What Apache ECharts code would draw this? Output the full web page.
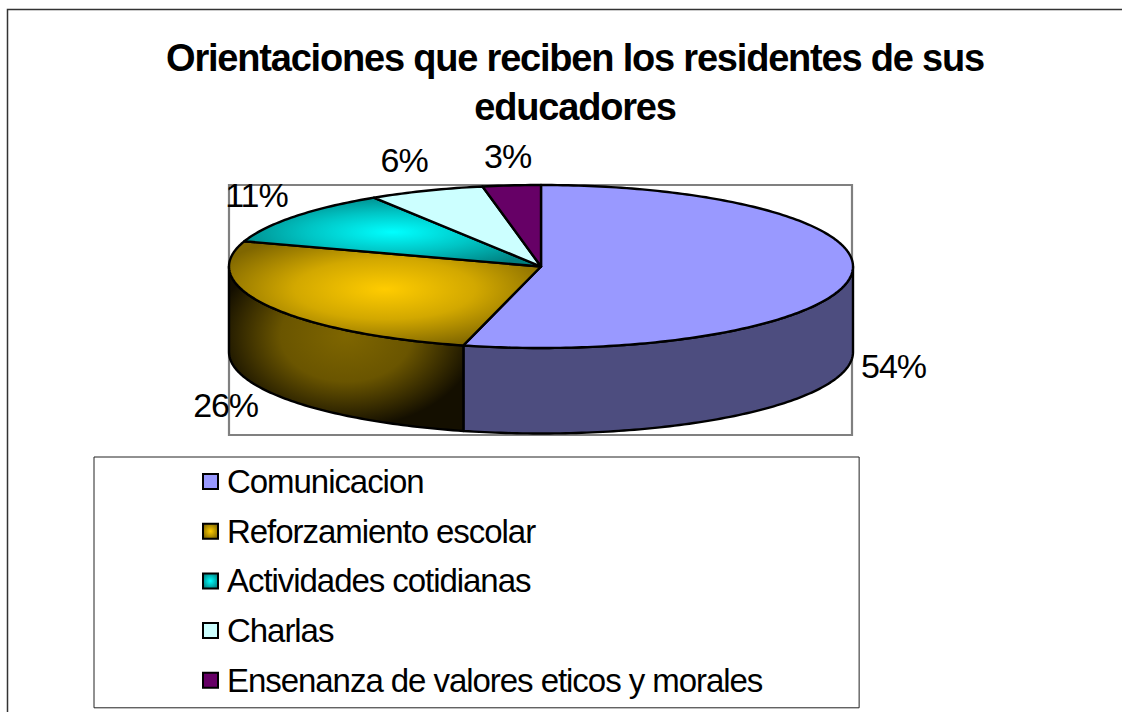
<!DOCTYPE html>
<html><head><meta charset="utf-8">
<style>
html,body{margin:0;padding:0;background:#fff;overflow:hidden}
#c{width:1122px;height:712px}
#c text{letter-spacing:-1.05px}
#c text[style*="bold"]{letter-spacing:-1.2px}
</style>
<script src="https://cdn.jsdelivr.net/npm/echarts@6/dist/echarts.min.js"></script>
</head><body><div id="c"></div>
<script>
const titleText = 'Orientaciones que reciben los residentes de sus\neducadores';
const categories = ['Comunicacion','Reforzamiento escolar','Actividades cotidianas','Charlas','Ensenanza de valores eticos y morales'];
const values = [54,26,11,6,3];

const pie = {cx:541, cy:266.5, rx:312, ry:81.5, depth:85.5};
const labelOffsets = [[43,89],[-42,99],[-38,-22],[-22,-31],[-4,-29]];
const FONT = '"Liberation Sans", Arial, sans-serif';

const radial = (cx,cy,r,stops)=>({type:'radial',x:cx,y:cy,r:r,colorStops:stops.map((c,i)=>({offset:i/(stops.length-1),color:c}))});
const topFill = [
  '#9999FF',
  radial(.5,.46,.58,['#FFCC00','#D2A800','#7F6600']),
  radial(.5,.5,.58,['#00FFFF','#00C4C4','#007F7F']),
  '#CCFFFF',
  '#660066'
];
const sideFill = [
  '#4D4D7F',
  radial(.5,.42,.56,['#7F6600','#6a5500','#140F00']),
  '#006666','#668080','#330033'
];
const legendFill = [
  '#9999FF',
  radial(.5,.5,.6,['#FFCC00','#7F6600']),
  radial(.5,.5,.6,['#00FFFF','#007F7F']),
  '#CCFFFF',
  '#660066'
];

const total = values.reduce((a,b)=>a+b,0);
const rad = d=>d*Math.PI/180;
const rim = (deg,dy=0)=>[pie.cx+pie.rx*Math.sin(rad(deg)), pie.cy-pie.ry*Math.cos(rad(deg))+dy];
function arc(a,b,dy=0){
  const pts=[]; const n=Math.max(2,Math.ceil(Math.abs(b-a)));
  for(let i=0;i<=n;i++) pts.push(rim(a+(b-a)*i/n,dy));
  return pts;
}
let acc=0;
const spans = values.map(v=>{const s=acc/total*360; acc+=v; return [s,acc/total*360];});

function slice(idx){
  return function(params,api){
    const [a,b]=spans[idx];
    const val=api.value(0);
    const kids=[];
    const sa=Math.max(a,90), sb=Math.min(b,270);
    if(sb>sa){
      kids.push({type:'polygon',shape:{points:arc(sa,sb).concat(arc(sb,sa,pie.depth))},
        style:{fill:sideFill[idx],stroke:'#000',lineWidth:2.4,lineJoin:'round'}});
    }
    kids.push({type:'polygon',shape:{points:[[pie.cx,pie.cy]].concat(arc(a,b))},
      style:{fill:topFill[idx],stroke:'#000',lineWidth:2.4,lineJoin:'round'}});
    const p=rim((a+b)/2), o=labelOffsets[idx];
    kids.push({type:'text',z2:50,style:{text:val+'%',x:p[0]+o[0],y:p[1]+o[1],align:'center',verticalAlign:'middle',
      fill:'#000',font:'34px '+FONT}});
    return {type:'group',children:kids};
  };
}

const chart=echarts.init(document.getElementById('c'),null,{renderer:'svg'});
chart.setOption({
  animation:false,
  backgroundColor:'#fff',
  title:{text:titleText,left:570,top:28,textAlign:'center',
    textStyle:{fontFamily:FONT,fontWeight:'bold',fontSize:38,lineHeight:49,color:'#000'}},
  graphic:[
    {type:'rect',silent:true,z:-1,shape:{x:7.5,y:9.5,width:1300,height:900},style:{fill:'#fff',stroke:'#333',lineWidth:1.5}},
    {type:'rect',silent:true,z:-1,shape:{x:229,y:185,width:623,height:250},style:{fill:'none',stroke:'#808080',lineWidth:2.2}}
  ],
  legend:{
    orient:'vertical',left:94,top:457,height:400,
    data:categories.map((n,i)=>({name:n,icon:'rect',itemStyle:{color:legendFill[i],borderColor:'#000',borderWidth:2}})),
    itemWidth:15,itemHeight:15,itemGap:16.7,selectedMode:false,
    padding:[8,58,11,108],
    backgroundColor:'#fff',borderColor:'#222',borderWidth:1,
    textStyle:{fontFamily:FONT,fontSize:33,lineHeight:20,color:'#000',padding:[0,0,0,4]}
  },
  series:categories.map((n,i)=>({
    type:'custom',name:n,coordinateSystem:'none',silent:true,
    itemStyle:{color:typeof legendFill[i]==='string'?legendFill[i]:legendFill[i].colorStops[0].color},
    renderItem:slice(i),data:[[values[i]]]
  }))
});
</script></body></html>
